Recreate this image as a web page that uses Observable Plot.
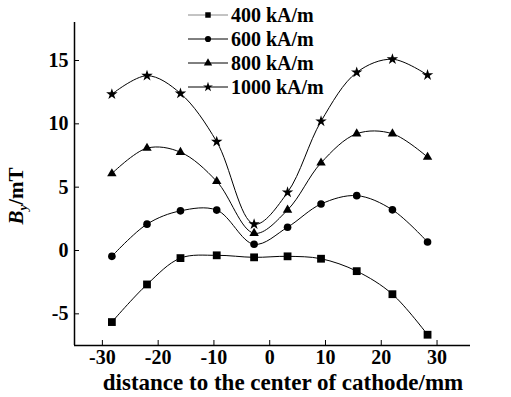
<!DOCTYPE html>
<html><head><meta charset="utf-8">
<script src="https://cdn.jsdelivr.net/npm/d3@7"></script>
<script src="https://cdn.jsdelivr.net/npm/@observablehq/plot@0.6"></script>
<style>
body{margin:0;background:#fff;}
#wrap{position:relative;width:511px;height:397px;font-family:"Liberation Serif","Tinos","Times New Roman","DejaVu Serif",serif;color:#000;}
#wrap svg{display:block;}
.ylab{position:absolute;left:19px;top:196px;transform:translate(-50%,-50%) rotate(-90deg);font-size:21px;font-weight:bold;white-space:nowrap;line-height:20px;}
.ylab sub{font-size:13px;font-style:italic;vertical-align:-4px;}
.xlab{position:absolute;left:283px;top:383px;transform:translate(-50%,-50%);font-size:23px;font-weight:bold;white-space:nowrap;line-height:16px;}
#legend{position:absolute;left:186px;top:3px;}
.lrow{display:flex;align-items:center;height:24px;font-size:20px;font-weight:bold;}
.lrow svg{margin-right:1px;}
</style></head><body><div id="wrap"></div>
<script>
const positions = [-28.3, -22, -16, -9.5, -2.8, 3.2, 9.2, 15.6, 22, 28.3];
const b400  = [-5.65, -2.68, -0.6, -0.38, -0.54, -0.46, -0.65, -1.63, -3.45, -6.65];
const b600  = [-0.46, 2.08, 3.13, 3.19, 0.49, 1.84, 3.67, 4.33, 3.21, 0.67];
const b800  = [6.07, 8.08, 7.76, 5.46, 1.36, 3.2, 6.92, 9.22, 9.22, 7.37];
const b1000 = [12.34, 13.8, 12.4, 8.59, 2.08, 4.59, 10.2, 14.06, 15.1, 13.85];
const seriesNames = ["400 kA/m", "600 kA/m", "800 kA/m", "1000 kA/m"];
const xTicks = [-30, -20, -10, 0, 10, 20, 30];
const yTicks = [-5, 0, 5, 10, 15];
const xDomain = [-35, 36];
const yDomain = [-7.5, 18];

const seriesValues = [b400, b600, b800, b1000];
const symbolNames = ["square", "circle", "triangle", "star"];
const markerR = {"square": 4.4, "circle": 3.8, "triangle": 3.5, "star": 3.6};

const data = seriesNames.flatMap((name, i) =>
  positions.map((x, j) => ({x, y: seriesValues[i][j], name, sym: symbolNames[i]})));

const font = '"Liberation Serif","Tinos","Times New Roman","DejaVu Serif",serif';
const chart = Plot.plot({
  width: 511, height: 397,
  marginLeft: 74, marginRight: 41, marginTop: 22, marginBottom: 52,
  x: {domain: xDomain},
  y: {domain: yDomain},
  style: {fontFamily: font, fontSize: "20px", fontWeight: "bold", background: "white", color: "black", overflow: "visible"},
  marks: [
    Plot.ruleX([xDomain[0]], {stroke: "black", strokeWidth: 1.5}),
    Plot.ruleY([yDomain[0]], {stroke: "black", strokeWidth: 1.5}),
    Plot.axisX({ticks: xTicks, tickSize: -5, tickPadding: 9, tickFormat: d => String(d), label: null, fontFamily: font}),
    Plot.axisY({ticks: yTicks, tickSize: -5, tickPadding: 11, tickFormat: d => String(d), label: null, fontFamily: font}),
    Plot.line(data, {x: "x", y: "y", z: "name", curve: "catmull-rom", stroke: "black", strokeWidth: 1}),
    ...symbolNames.map(s => Plot.dot(data.filter(d => d.sym === s), {x: "x", y: "y", symbol: () => s, fill: "black", stroke: "none", r: markerR[s]}))
  ]
});
const wrap = document.getElementById("wrap");
wrap.appendChild(chart);

const yl = document.createElement("div");
yl.className = "ylab";
yl.innerHTML = '<i>B</i><sub>y</sub>/mT';
wrap.appendChild(yl);

const xl = document.createElement("div");
xl.className = "xlab";
xl.textContent = "distance to the center of cathode/mm";
wrap.appendChild(xl);

const leg = document.createElement("div");
leg.id = "legend";
const symMap = {square: d3.symbolSquare, circle: d3.symbolCircle, triangle: d3.symbolTriangle, star: d3.symbolStar};
seriesNames.forEach((name, i) => {
  const row = document.createElement("div");
  row.className = "lrow";
  const s = d3.create("svg").attr("width", 44).attr("height", 24);
  s.append("line").attr("x1", 2).attr("x2", 42).attr("y1", 12).attr("y2", 12).attr("stroke", i === 0 ? "#888" : "black").attr("stroke-width", 1);
  s.append("path").attr("transform", "translate(22,12)").attr("d", d3.symbol(symMap[symbolNames[i]], 30)()).attr("fill", "black");
  row.appendChild(s.node());
  const t = document.createElement("span");
  t.textContent = name;
  row.appendChild(t);
  leg.appendChild(row);
});
wrap.appendChild(leg);
</script></body></html>
